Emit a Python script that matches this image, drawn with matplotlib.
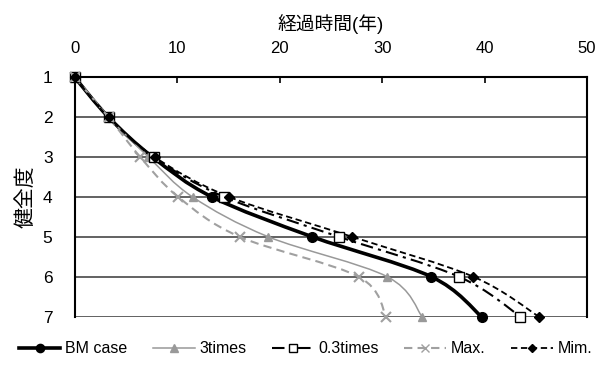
import numpy as np
import matplotlib
matplotlib.use("Agg")
import matplotlib.pyplot as plt
from matplotlib.path import Path
from matplotlib.patches import PathPatch
from matplotlib.lines import Line2D

plt.rcParams['font.family'] = ['Liberation Sans', 'Noto Sans CJK JP', 'DejaVu Sans']

# 健全度 (condition grade) and elapsed years for each case
grades = [1, 2, 3, 4, 5, 6, 7]
bm_case = [0, 3.3, 7.6, 13.4, 23.2, 34.8, 39.7]
times3 = [0, 3.3, 7.2, 11.5, 18.9, 30.5, 33.9]
times03 = [0, 3.3, 7.7, 14.6, 25.8, 37.5, 43.5]
max_case = [0, 3.3, 6.4, 10.1, 16.1, 27.7, 30.4]
mim_case = [0, 3.3, 7.8, 15.1, 27.1, 38.9, 45.3]

series = [
    ("BM case", bm_case, dict(color="black", lw=2.6, ls="-", marker="o", ms=7,
                              mfc="black", mec="black")),
    ("3times", times3, dict(color="#999999", lw=1.1, ls="-", marker="^", ms=6,
                            mfc="#999999", mec="#999999")),
    ("0.3times", times03, dict(color="black", lw=1.5, ls=(0, (6, 2.5, 1.5, 2.5)), marker="s", ms=7,
                               mfc="white", mec="black")),
    ("Max.", max_case, dict(color="#a0a0a0", lw=1.5, ls=(0, (4, 2.5)), marker="x", ms=7,
                            mfc="#a0a0a0", mec="#a0a0a0")),
    ("Mim.", mim_case, dict(color="black", lw=1.3, ls=(0, (3.5, 2)), marker="D", ms=5,
                            mfc="black", mec="black")),
]


def smooth_path(xs, ys):
    # Excel-style smoothed line: cubic Bezier segments through the points
    pts = np.column_stack([xs, ys]).astype(float)
    n = len(pts)
    verts = [pts[0]]
    codes = [Path.MOVETO]
    for i in range(n - 1):
        p0 = pts[i - 1] if i > 0 else pts[i]
        p1 = pts[i]
        p2 = pts[i + 1]
        p3 = pts[i + 2] if i + 2 < n else pts[i + 1]
        c1 = p1 + (p2 - p0) / 6.0
        c2 = p2 - (p3 - p1) / 6.0
        verts += [c1, c2, p2]
        codes += [Path.CURVE4] * 3
    return Path(verts, codes)


fig = plt.figure(figsize=(6.11, 3.69), dpi=100)
ax = fig.add_axes([0.1223, 0.142, 0.8385, 0.6485])

for g in grades:
    ax.axhline(g, color="#555555", lw=1.3, zorder=1)

handles = []
for name, xs, st in series:
    patch = PathPatch(smooth_path(xs, grades), facecolor="none", edgecolor=st["color"],
                      lw=st["lw"], ls=st["ls"], zorder=3, clip_on=False)
    ax.add_patch(patch)
    ax.plot(xs, grades, ls="none", marker=st["marker"], ms=st["ms"], mfc=st["mfc"],
            mec=st["mec"], mew=1.5 if st["marker"] == "x" else 1.0, zorder=4, clip_on=False)
    handles.append(Line2D([], [], color=st["color"], lw=st["lw"], ls=st["ls"],
                          marker=st["marker"], ms=st["ms"] * 0.85, mfc=st["mfc"], mec=st["mec"],
                          label=name))

ax.set_xlim(0, 50)
ax.set_ylim(7, 1)
ax.set_xticks([0, 10, 20, 30, 40, 50])
ax.set_yticks(grades)
ax.xaxis.tick_top()
ax.xaxis.set_label_position("top")
ax.tick_params(axis="x", direction="in", length=4, width=1.2, labelsize=12, pad=15)
ax.tick_params(axis="y", length=0, labelsize=12.5, pad=16)
for s in ["top", "left", "right"]:
    ax.spines[s].set_linewidth(1.5)
    ax.spines[s].set_color("black")
ax.spines["bottom"].set_visible(False)

ax.set_xlabel("経過時間(年)", fontsize=13.5, labelpad=8)
ax.set_ylabel("健全度", fontsize=15, labelpad=5)

fig.legend(handles=handles, loc="lower center", bbox_to_anchor=(0.5, -0.005), ncol=5,
           frameon=False, fontsize=11.5, handlelength=2.6, handletextpad=0.3,
           columnspacing=1.6)

fig.savefig("out.png", dpi=100)
